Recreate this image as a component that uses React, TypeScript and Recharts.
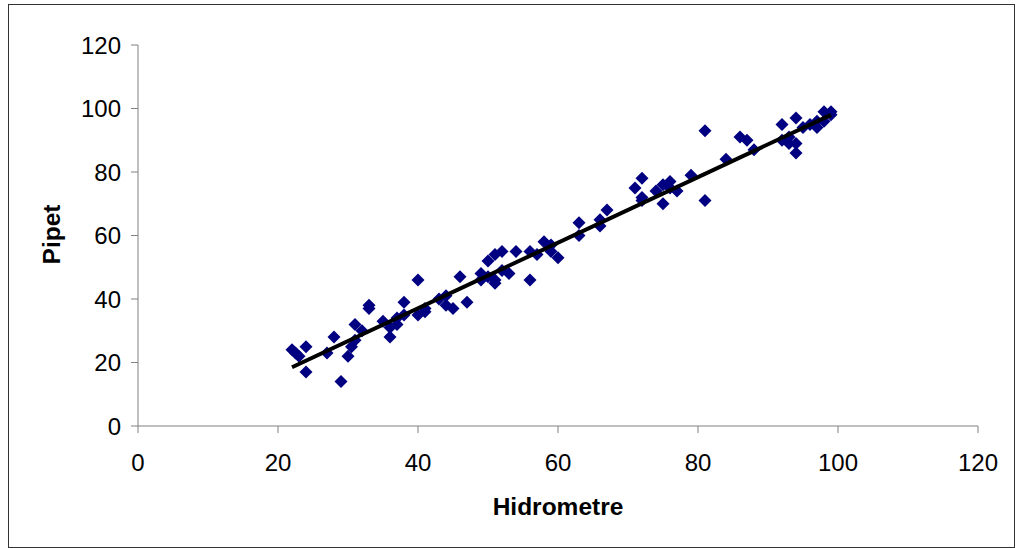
import { Scatter, ScatterChart, XAxis, YAxis } from "recharts";

const hidrometre = [
  22, 22.5, 23, 24, 24, 27, 28, 29, 30, 30.5, 31, 31, 32, 33, 33, 35, 36, 36,
  37, 37, 38, 38, 40, 40, 41, 41, 43, 44, 44, 45, 46, 47, 49, 49, 50, 50, 51,
  51, 51, 52, 52, 53, 54, 56, 56, 57, 58, 59, 59, 60, 63, 63, 66, 66, 67, 71,
  72, 72, 72, 74, 75, 75, 76, 76, 77, 79, 81, 81, 84, 86, 87, 88, 92, 92, 93,
  93, 94, 94, 94, 95, 96, 97, 97, 98, 98, 99, 99,
];
const pipet = [
  24, 23, 22, 25, 17, 23, 28, 14, 22, 25, 32, 27, 30, 38, 37, 33, 28, 31, 32,
  34, 39, 35, 46, 35, 36, 37, 40, 38, 41, 37, 47, 39, 48, 46, 52, 47, 54, 45,
  46, 55, 49, 48, 55, 55, 46, 54, 58, 57, 55, 53, 64, 60, 65, 63, 68, 75, 78,
  71, 72, 74, 76, 70, 77, 75, 74, 79, 93, 71, 84, 91, 90, 87, 95, 90, 91, 89,
  97, 89, 86, 94, 95, 96, 94, 99, 96, 99, 98,
];
const trendX = [22, 99];
const trendY = [18.5, 98];
const ticks = [0, 20, 40, 60, 80, 100, 120];

const points = hidrometre.map((x, i) => ({ x, y: pipet[i] }));
const trend = trendX.map((x, i) => ({ x, y: trendY[i] }));

const Diamond = (props: any) => {
  const { cx, cy } = props;
  const r = 6.5;
  return (
    <polygon
      points={`${cx},${cy - r} ${cx + r},${cy} ${cx},${cy + r} ${cx - r},${cy}`}
      fill="#000080"
    />
  );
};

const font = { fontFamily: "Liberation Sans, Arial, sans-serif" };

// rotated y title, centred on the plot height
const PipetLabel = (props: any) => {
  const { viewBox } = props;
  const x = viewBox.x - 27;
  const y = viewBox.y + viewBox.height / 2 - 1;
  return (
    <text
      x={x}
      y={y}
      transform={`rotate(-90, ${x}, ${y})`}
      textAnchor="middle"
      dominantBaseline="central"
      fill="#000"
      fontSize={24.5}
      fontWeight="bold"
      fontFamily={font.fontFamily}
    >
      Pipet
    </text>
  );
};

export default function App() {
  return (
    <div
      style={{
        position: "absolute",
        left: 0,
        top: 0,
        width: 1016,
        height: 548,
        background: "#fff",
        ...font,
      }}
    >
      <div
        style={{
          position: "absolute",
          left: 8,
          top: 4,
          width: 1005,
          height: 542,
          border: "1px solid #333",
        }}
      />
      <ScatterChart
        width={1016}
        height={548}
        margin={{ top: 45, right: 38, bottom: 22, left: 78 }}
        style={{ position: "absolute", left: 0, top: 0 }}
      >
        <XAxis
          type="number"
          dataKey="x"
          domain={[0, 120]}
          ticks={ticks}
          height={100}
          tickSize={7}
          stroke="#808080"
          tick={{ fill: "#000", fontSize: 24, ...font, dy: 19 }}
          label={{
            value: "Hidrometre",
            position: "insideBottom",
            offset: 11,
            fill: "#000",
            fontSize: 24.5,
            fontWeight: "bold",
            ...font,
          }}
        />
        <YAxis
          type="number"
          dataKey="y"
          domain={[0, 120]}
          ticks={ticks}
          width={60}
          tickSize={7}
          stroke="#808080"
          tick={{ fill: "#000", fontSize: 24, ...font, dx: -8 }}
          label={{ content: PipetLabel }}
        />
        <Scatter data={points} shape={Diamond} isAnimationActive={false} />
        <Scatter
          data={trend}
          line={{ stroke: "#000", strokeWidth: 4 }}
          shape={() => <g />}
          isAnimationActive={false}
        />
      </ScatterChart>
    </div>
  );
}
